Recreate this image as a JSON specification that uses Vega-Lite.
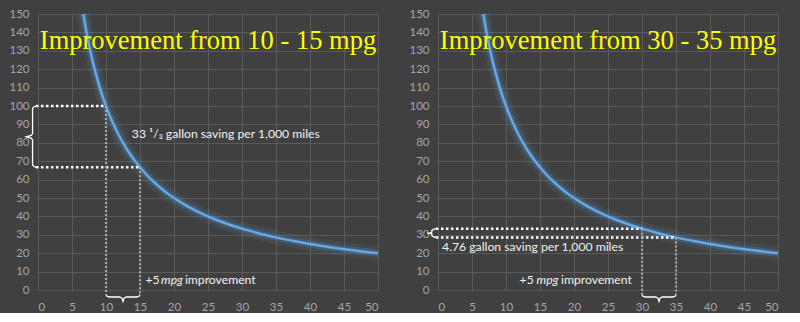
{
  "$schema": "https://vega.github.io/schema/vega-lite/v6.json",
  "autosize": {"type": "pad"},
  "padding": {"left": 8, "top": -14, "right": 0, "bottom": 0},
  "background": "#404040",
  "spacing": 60,
  "bounds": "flush",
  "datasets": {
    "curve": [
      {"x": 6.667, "y": 150}, {"x": 7, "y": 142.86}, {"x": 7.5, "y": 133.33}, {"x": 8, "y": 125},
      {"x": 8.5, "y": 117.65}, {"x": 9, "y": 111.11}, {"x": 9.5, "y": 105.26}, {"x": 10, "y": 100},
      {"x": 10.5, "y": 95.24}, {"x": 11, "y": 90.91}, {"x": 12, "y": 83.33}, {"x": 13, "y": 76.92},
      {"x": 14, "y": 71.43}, {"x": 15, "y": 66.67}, {"x": 16, "y": 62.5}, {"x": 17, "y": 58.82},
      {"x": 18, "y": 55.56}, {"x": 19, "y": 52.63}, {"x": 20, "y": 50}, {"x": 22, "y": 45.45},
      {"x": 24, "y": 41.67}, {"x": 26, "y": 38.46}, {"x": 28, "y": 35.71}, {"x": 30, "y": 33.33},
      {"x": 32, "y": 31.25}, {"x": 34, "y": 29.41}, {"x": 36, "y": 27.78}, {"x": 38, "y": 26.32},
      {"x": 40, "y": 25}, {"x": 42, "y": 23.81}, {"x": 44, "y": 22.73}, {"x": 46, "y": 21.74},
      {"x": 48, "y": 20.83}, {"x": 50, "y": 20}
    ]
  },
  "hconcat": [
    {
      "width": 340,
      "height": 276,
      "encoding": {
        "x": {"field": "x", "type": "quantitative", "scale": {"domain": [0, 50], "nice": false}, "axis": {"title": null, "values": [0,5,10,15,20,25,30,35,40,45,50]}},
        "y": {"field": "y", "type": "quantitative", "scale": {"domain": [0, 150], "nice": false}, "axis": {"title": null, "values": [0,10,20,30,40,50,60,70,80,90,100,110,120,130,140,150]}}
      },
      "layer": [
        {"data": {"name": "curve"}, "mark": {"type": "line", "interpolate": "monotone", "color": "#5b9bd5", "strokeWidth": 14, "opacity": 0.1}},
        {"data": {"name": "curve"}, "mark": {"type": "line", "interpolate": "monotone", "color": "#5b9bd5", "strokeWidth": 7, "opacity": 0.22}},
        {"data": {"name": "curve"}, "mark": {"type": "line", "interpolate": "monotone", "color": "#62a8ea", "strokeWidth": 2.5}},
        {
          "data": {"values": [
            {"x": -0.3, "y": 100, "x2": 10, "y2": 100},
            {"x": -0.3, "y": 66.67, "x2": 15, "y2": 66.67}
          ]},
          "mark": {"type": "rule", "color": "#ffffff", "strokeWidth": 2.5, "strokeDash": [2.5, 2.5]},
          "encoding": {"x2": {"field": "x2"}, "y2": {"field": "y2"}}
        },
        {
          "data": {"values": [
            {"x": 10, "y": 100, "x2": 10, "y2": -2.5},
            {"x": 15, "y": 66.67, "x2": 15, "y2": -2.5}
          ]},
          "mark": {"type": "rule", "color": "#a6a6a6", "strokeWidth": 2.2, "strokeDash": [2, 2]},
          "encoding": {"x2": {"field": "x2"}, "y2": {"field": "y2"}}
        },
        {
          "data": {"values": [
            {"g": "a", "o": 1, "x": -0.2, "y": 100}, {"g": "a", "o": 2, "x": -0.6, "y": 99.6},
            {"g": "a", "o": 3, "x": -0.8, "y": 98.5}, {"g": "a", "o": 4, "x": -0.8, "y": 85},
            {"g": "a", "o": 5, "x": -1.0, "y": 84}, {"g": "a", "o": 6, "x": -1.7, "y": 83.3},
            {"g": "a", "o": 7, "x": -1.0, "y": 82.6}, {"g": "a", "o": 8, "x": -0.8, "y": 81.6},
            {"g": "a", "o": 9, "x": -0.8, "y": 68.2}, {"g": "a", "o": 10, "x": -0.6, "y": 67.1},
            {"g": "a", "o": 11, "x": -0.2, "y": 66.7},
            {"g": "b", "o": 1, "x": 10, "y": -2.5}, {"g": "b", "o": 2, "x": 10.15, "y": -3.4},
            {"g": "b", "o": 3, "x": 10.5, "y": -3.8}, {"g": "b", "o": 4, "x": 12.0, "y": -3.8},
            {"g": "b", "o": 5, "x": 12.35, "y": -4.4}, {"g": "b", "o": 6, "x": 12.5, "y": -6.2},
            {"g": "b", "o": 7, "x": 12.65, "y": -4.4}, {"g": "b", "o": 8, "x": 13.0, "y": -3.8},
            {"g": "b", "o": 9, "x": 14.5, "y": -3.8}, {"g": "b", "o": 10, "x": 14.85, "y": -3.4},
            {"g": "b", "o": 11, "x": 15, "y": -2.5}
          ]},
          "mark": {"type": "line", "color": "#ffffff", "strokeWidth": 1.3},
          "encoding": {"detail": {"field": "g"}, "order": {"field": "o", "type": "quantitative"}}
        },
        {
          "data": {"values": [{"x": 25, "y": 131, "t": "Improvement from 10 - 15 mpg"}]},
          "mark": {"type": "text", "font": "Liberation Serif", "fontSize": 26.5, "color": "#ffff00", "align": "center", "baseline": "alphabetic"},
          "encoding": {"text": {"field": "t"}}
        },
        {
          "data": {"values": [
            {"x": 13.8, "y": 82.6, "t": "33 ¹/₃  gallon saving per 1,000 miles"},
            {"x": 15.8, "y": 3.3, "t": "+5"},
            {"x": 21.6, "y": 3.3, "t": "improvement"}
          ]},
          "mark": {"type": "text", "font": "Lato", "fontSize": 12.2, "color": "#f2f2f2", "align": "left", "baseline": "alphabetic"},
          "encoding": {"text": {"field": "t"}}
        },
        {
          "data": {"values": [{"x": 18.1, "y": 3.3, "t": "mpg"}]},
          "mark": {"type": "text", "font": "Lato", "fontSize": 12.2, "fontStyle": "italic", "color": "#f2f2f2", "align": "left", "baseline": "alphabetic"},
          "encoding": {"text": {"field": "t"}}
        }
      ]
    },
    {
      "width": 340,
      "height": 276,
      "encoding": {
        "x": {"field": "x", "type": "quantitative", "scale": {"domain": [0, 50], "nice": false}, "axis": {"title": null, "values": [0,5,10,15,20,25,30,35,40,45,50]}},
        "y": {"field": "y", "type": "quantitative", "scale": {"domain": [0, 150], "nice": false}, "axis": {"title": null, "values": [0,10,20,30,40,50,60,70,80,90,100,110,120,130,140,150]}}
      },
      "layer": [
        {"data": {"name": "curve"}, "mark": {"type": "line", "interpolate": "monotone", "color": "#5b9bd5", "strokeWidth": 14, "opacity": 0.1}},
        {"data": {"name": "curve"}, "mark": {"type": "line", "interpolate": "monotone", "color": "#5b9bd5", "strokeWidth": 7, "opacity": 0.22}},
        {"data": {"name": "curve"}, "mark": {"type": "line", "interpolate": "monotone", "color": "#62a8ea", "strokeWidth": 2.5}},
        {
          "data": {"values": [
            {"x": -0.3, "y": 33.33, "x2": 30, "y2": 33.33},
            {"x": -0.3, "y": 28.57, "x2": 35, "y2": 28.57}
          ]},
          "mark": {"type": "rule", "color": "#ffffff", "strokeWidth": 2.5, "strokeDash": [2.5, 2.5]},
          "encoding": {"x2": {"field": "x2"}, "y2": {"field": "y2"}}
        },
        {
          "data": {"values": [
            {"x": 30, "y": 33.33, "x2": 30, "y2": -2.5},
            {"x": 35, "y": 28.57, "x2": 35, "y2": -2.5}
          ]},
          "mark": {"type": "rule", "color": "#a6a6a6", "strokeWidth": 2.2, "strokeDash": [2, 2]},
          "encoding": {"x2": {"field": "x2"}, "y2": {"field": "y2"}}
        },
        {
          "data": {"values": [
            {"g": "a", "o": 1, "x": -0.2, "y": 33.33}, {"g": "a", "o": 2, "x": -0.6, "y": 33.1},
            {"g": "a", "o": 3, "x": -0.9, "y": 32.4}, {"g": "a", "o": 4, "x": -0.9, "y": 31.5},
            {"g": "a", "o": 5, "x": -1.1, "y": 31.1}, {"g": "a", "o": 6, "x": -1.6, "y": 30.95},
            {"g": "a", "o": 7, "x": -1.1, "y": 30.8}, {"g": "a", "o": 8, "x": -0.9, "y": 30.4},
            {"g": "a", "o": 9, "x": -0.9, "y": 29.5}, {"g": "a", "o": 10, "x": -0.6, "y": 28.8},
            {"g": "a", "o": 11, "x": -0.2, "y": 28.57},
            {"g": "b", "o": 1, "x": 30, "y": -2.5}, {"g": "b", "o": 2, "x": 30.15, "y": -3.4},
            {"g": "b", "o": 3, "x": 30.5, "y": -3.8}, {"g": "b", "o": 4, "x": 32.0, "y": -3.8},
            {"g": "b", "o": 5, "x": 32.35, "y": -4.4}, {"g": "b", "o": 6, "x": 32.5, "y": -6.2},
            {"g": "b", "o": 7, "x": 32.65, "y": -4.4}, {"g": "b", "o": 8, "x": 33.0, "y": -3.8},
            {"g": "b", "o": 9, "x": 34.5, "y": -3.8}, {"g": "b", "o": 10, "x": 34.85, "y": -3.4},
            {"g": "b", "o": 11, "x": 35, "y": -2.5}
          ]},
          "mark": {"type": "line", "color": "#ffffff", "strokeWidth": 1.3},
          "encoding": {"detail": {"field": "g"}, "order": {"field": "o", "type": "quantitative"}}
        },
        {
          "data": {"values": [{"x": 25, "y": 131, "t": "Improvement from 30 - 35 mpg"}]},
          "mark": {"type": "text", "font": "Liberation Serif", "fontSize": 26.5, "color": "#ffff00", "align": "center", "baseline": "alphabetic"},
          "encoding": {"text": {"field": "t"}}
        },
        {
          "data": {"values": [
            {"x": 0.6, "y": 21, "t": "4.76 gallon saving per 1,000 miles"},
            {"x": 12.0, "y": 3.0, "t": "+5"},
            {"x": 18.1, "y": 3.0, "t": "improvement"}
          ]},
          "mark": {"type": "text", "font": "Lato", "fontSize": 12.2, "color": "#f2f2f2", "align": "left", "baseline": "alphabetic"},
          "encoding": {"text": {"field": "t"}}
        },
        {
          "data": {"values": [{"x": 14.5, "y": 3.0, "t": "mpg"}]},
          "mark": {"type": "text", "font": "Lato", "fontSize": 12.2, "fontStyle": "italic", "color": "#f2f2f2", "align": "left", "baseline": "alphabetic"},
          "encoding": {"text": {"field": "t"}}
        }
      ]
    }
  ],
  "config": {
    "view": {"stroke": null},
    "axis": {
      "domain": false,
      "ticks": false,
      "grid": true,
      "gridColor": "#5a5a5a",
      "gridWidth": 1,
      "labelColor": "#a6a6a6",
      "labelFont": "Lato",
      "labelFontSize": 11.5
    },
    "axisX": {"labelPadding": 11},
    "axisY": {"labelPadding": 9}
  }
}
